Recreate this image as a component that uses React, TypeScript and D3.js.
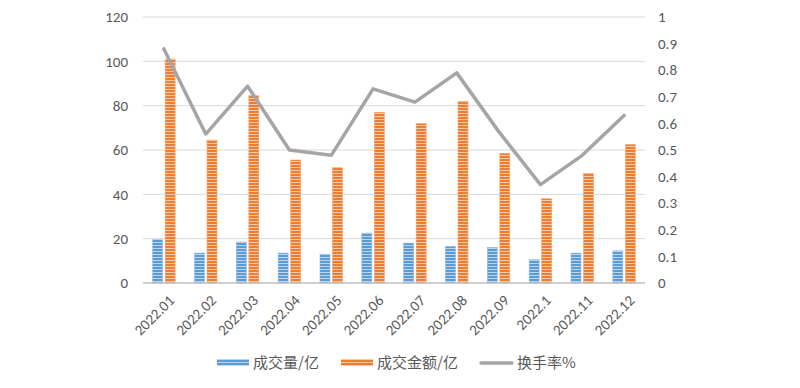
import React from "react";
import * as d3 from "d3";

const categories = ["2022.01","2022.02","2022.03","2022.04","2022.05","2022.06","2022.07","2022.08","2022.09","2022.1","2022.11","2022.12"];
const volume = [19.5, 13.5, 18.5, 13.5, 13, 22.5, 18, 16.5, 16, 10.5, 13.5, 14.5];
const amount = [101, 64.5, 84.5, 55.5, 52, 77, 72, 82, 58.5, 38, 49.5, 62.5];
const turnover = [0.88, 0.56, 0.74, 0.50, 0.48, 0.73, 0.68, 0.79, 0.57, 0.37, 0.48, 0.63];
const leftTicks = [0, 20, 40, 60, 80, 100, 120];
const rightTicks = [0, 0.1, 0.2, 0.3, 0.4, 0.5, 0.6, 0.7, 0.8, 0.9, 1];
const seriesNames = ["成交量/亿", "成交金额/亿", "换手率%"];

const W = 800, H = 388;
const left = 143, right = 645, top = 17, bottom = 283;
const font = "Carlito, Lato, 'Noto Sans CJK SC', sans-serif";
const cjkFont = "'Noto Sans CJK SC', sans-serif";

export default function App() {
  const x = d3.scaleBand<string>().domain(categories).range([left, right]).padding(0);
  const yL = d3.scaleLinear().domain([0, 120]).range([bottom, top]);
  const yR = d3.scaleLinear().domain([0, 1]).range([bottom, top]);
  const bw = 10, gap = 2.5;
  const line = d3.line<number>()
    .x((_, i) => (x(categories[i]) as number) + x.bandwidth() / 2)
    .y((d) => yR(d));
  const fmtR = (v: number) => (v === 0 ? "0" : v === 1 ? "1" : d3.format(".1f")(v));
  return (
    <svg width={W} height={H} style={{ position: "absolute", left: 0, top: 0, background: "#fff" }}>
      <defs>
        <pattern id="pBlue" patternUnits="userSpaceOnUse" width="4" height="3">
          <rect width="4" height="3" fill="#5b9bd5" />
          <rect y="2" width="4" height="1" fill="#bcd6ef" />
        </pattern>
        <pattern id="pOrange" patternUnits="userSpaceOnUse" width="4" height="3">
          <rect width="4" height="3" fill="#ed7d31" />
          <rect y="2" width="4" height="1" fill="#f8c9a8" />
        </pattern>
      </defs>
      {leftTicks.map((t) => (
        <g key={"g" + t}>
          {t !== 0 && <line x1={left} x2={right} y1={yL(t)} y2={yL(t)} stroke="#d9d9d9" strokeWidth={1} />}
          <text x={128} y={yL(t)} dy="0.35em" textAnchor="end" fontSize={15} fill="#595959" fontFamily={font}>{t}</text>
        </g>
      ))}
      {rightTicks.map((t) => (
        <text key={"r" + t} x={658} y={yR(t)} dy="0.35em" textAnchor="start" fontSize={15} fill="#595959" fontFamily={font}>{fmtR(t)}</text>
      ))}
      {categories.map((c, i) => {
        const cx = (x(c) as number) + x.bandwidth() / 2;
        return (
          <g key={c}>
            <rect x={cx - gap / 2 - bw} y={yL(volume[i])} width={bw} height={bottom - yL(volume[i])} fill="url(#pBlue)" stroke="#8fb8e3" strokeWidth={0.6} />
            <rect x={cx + gap / 2} y={yL(amount[i])} width={bw} height={bottom - yL(amount[i])} fill="url(#pOrange)" stroke="#f3a472" strokeWidth={0.6} />
            <text transform={`translate(${cx + 4},${bottom + 11}) rotate(-45)`} textAnchor="end" dy="0.7em" fontSize={15} fill="#595959" fontFamily={font}>{c}</text>
          </g>
        );
      })}
      <line x1={left} x2={right} y1={bottom} y2={bottom} stroke="#bfbfbf" strokeWidth={1.5} />
      <path d={line(turnover) || ""} fill="none" stroke="#a5a5a5" strokeWidth={3.5} strokeLinejoin="round" strokeLinecap="round" />
      <g fontSize={15} fill="#595959" fontFamily={cjkFont}>
        <rect x={217} y={359} width={32} height={7} fill="url(#pBlue)" />
        <text x={253} y={363} dy="0.35em" fill="#595959">{seriesNames[0]}</text>
        <rect x={341} y={359} width={32} height={7} fill="url(#pOrange)" />
        <text x={377} y={363} dy="0.35em" fill="#595959">{seriesNames[1]}</text>
        <line x1={481} x2={512} y1={363} y2={363} stroke="#a5a5a5" strokeWidth={3.5} strokeLinecap="round" />
        <text x={517} y={363} dy="0.35em" fill="#595959">{seriesNames[2]}</text>
      </g>
    </svg>
  );
}
